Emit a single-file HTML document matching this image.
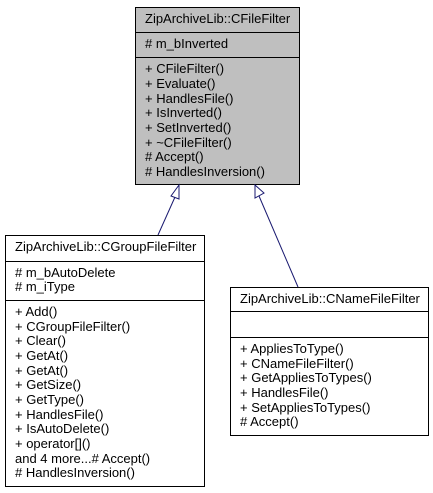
<!DOCTYPE html>
<html><head><meta charset="utf-8"><style>
html,body{margin:0;padding:0;background:#fff;}
svg{display:block;}
text{font-family:"Liberation Sans",Arial,sans-serif;font-size:13px;fill:#000;}
</style></head><body>
<svg width="433" height="493" viewBox="0 0 433 493" xmlns="http://www.w3.org/2000/svg">
<rect x="135.5" y="7.5" width="164" height="177" fill="#bfbfbf" stroke="#000"/>
<line x1="135" y1="32.5" x2="300" y2="32.5" stroke="#000"/>
<line x1="135" y1="57.5" x2="300" y2="57.5" stroke="#000"/>
<text x="145" y="23">ZipArchiveLib::CFileFilter</text>
<text x="145" y="48"># m_bInverted</text>
<text x="145" y="73">+ CFileFilter()</text>
<text x="145" y="88">+ Evaluate()</text>
<text x="145" y="103">+ HandlesFile()</text>
<text x="145" y="117">+ IsInverted()</text>
<text x="145" y="132">+ SetInverted()</text>
<text x="145" y="147">+ ~CFileFilter()</text>
<text x="145" y="161"># Accept()</text>
<text x="145" y="176"># HandlesInversion()</text>

<rect x="5.5" y="235.5" width="199" height="251" fill="#fff" stroke="#000"/>
<line x1="5" y1="261.5" x2="205" y2="261.5" stroke="#000"/>
<line x1="5" y1="300.5" x2="205" y2="300.5" stroke="#000"/>
<text x="15" y="251">ZipArchiveLib::CGroupFileFilter</text>
<text x="15" y="277"># m_bAutoDelete</text>
<text x="15" y="291"># m_iType</text>
<text x="15" y="316">+ Add()</text>
<text x="15" y="331">+ CGroupFileFilter()</text>
<text x="15" y="345">+ Clear()</text>
<text x="15" y="360">+ GetAt()</text>
<text x="15" y="375">+ GetAt()</text>
<text x="15" y="389">+ GetSize()</text>
<text x="15" y="404">+ GetType()</text>
<text x="15" y="419">+ HandlesFile()</text>
<text x="15" y="433">+ IsAutoDelete()</text>
<text x="15" y="448">+ operator[]()</text>
<text x="15" y="463">and 4 more...# Accept()</text>
<text x="15" y="477"># HandlesInversion()</text>

<rect x="230.5" y="287.5" width="198" height="148" fill="#fff" stroke="#000"/>
<line x1="230" y1="311.5" x2="429" y2="311.5" stroke="#000"/>
<line x1="230" y1="337.5" x2="429" y2="337.5" stroke="#000"/>
<text x="240" y="303">ZipArchiveLib::CNameFileFilter</text>
<text x="240" y="353">+ AppliesToType()</text>
<text x="240" y="368">+ CNameFileFilter()</text>
<text x="240" y="382">+ GetAppliesToTypes()</text>
<text x="240" y="397">+ HandlesFile()</text>
<text x="240" y="412">+ SetAppliesToTypes()</text>
<text x="240" y="426"># Accept()</text>

<g stroke="#191970" fill="#fff" stroke-width="1">
<line x1="175" y1="197" x2="158" y2="235"/>
<polygon points="179,185 171,196 179,199"/>
<line x1="259" y1="196" x2="298" y2="287"/>
<polygon points="255,185 255,198 264,193"/>
</g>
</svg>
</body></html>
